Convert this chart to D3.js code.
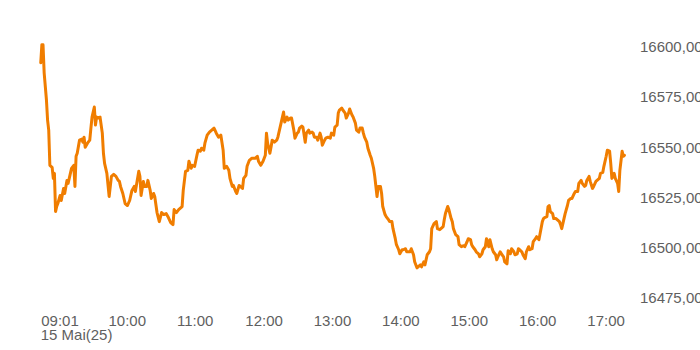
<!DOCTYPE html>
<html>
<head>
<meta charset="utf-8">
<script src="https://cdn.jsdelivr.net/npm/d3@7"></script>
<style>
  body { margin: 0; background: #fff; }
  svg { display: block; }
</style>
</head>
<body>
<div id="chart"></div>
<script>
// intraday quotes, 15 Mai 2025
const times = [
  "09:01","09:02","09:03","09:04","09:06","09:07","09:08","09:09","09:11","09:12","09:13","09:14","09:15","09:16","09:18","09:19",
  "09:21","09:22","09:24","09:25","09:27","09:28","09:30","09:31","09:32","09:33","09:35","09:37","09:38","09:39","09:40","09:42",
  "09:44","09:45","09:46","09:48","09:49","09:50","09:52","09:53","09:55","09:56","09:57","09:59","10:01","10:03","10:05","10:07",
  "10:09","10:10","10:11","10:13","10:15","10:17","10:19","10:21","10:23","10:24","10:27","10:28","10:29","10:31","10:32","10:34",
  "10:35","10:37","10:38","10:40","10:41","10:43","10:45","10:47","10:49","10:51","10:53","10:55","10:57","10:58","11:00","11:02",
  "11:05","11:06","11:08","11:10","11:11","11:13","11:14","11:16","11:18","11:19","11:21","11:22","11:24","11:25","11:27","11:29",
  "11:31","11:33","11:35","11:37","11:39","11:41","11:42","11:44","11:46","11:47","11:49","11:50","11:52","11:53","11:55","11:56",
  "11:58","11:59","12:01","12:02","12:04","12:06","12:09","12:11","12:12","12:14","12:16","12:18","12:19","12:20","12:22","12:23",
  "12:24","12:26","12:28","12:29","12:31","12:32","12:34","12:35","12:37","12:38","12:40","12:41","12:43","12:44","12:46","12:47",
  "12:48","12:50","12:51","12:53","12:54","12:56","12:57","12:59","13:00","13:01","13:03","13:04","13:06","13:07","13:08","13:10",
  "13:11","13:13","13:15","13:16","13:18","13:19","13:21","13:22","13:23","13:25","13:26","13:28","13:29","13:31","13:32","13:34",
  "13:35","13:37","13:38","13:40","13:41","13:43","13:44","13:45","13:47","13:48","13:50","13:51","13:53","13:54","13:56","13:57",
  "13:59","14:00","14:01","14:03","14:04","14:06","14:07","14:09","14:10","14:12","14:13","14:15","14:16","14:18","14:19","14:21",
  "14:22","14:23","14:25","14:26","14:28","14:29","14:31","14:32","14:34","14:35","14:37","14:38","14:39","14:40","14:42","14:43",
  "14:44","14:46","14:48","14:49","14:51","14:52","14:54","14:55","14:56","14:58","14:59","15:01","15:02","15:03","15:05","15:07",
  "15:08","15:10","15:12","15:13","15:15","15:16","15:18","15:19","15:20","15:22","15:23","15:25","15:26","15:28","15:29","15:31",
  "15:32","15:34","15:35","15:37","15:38","15:40","15:41","15:42","15:44","15:45","15:47","15:48","15:50","15:51","15:53","15:54",
  "15:56","15:57","15:59","16:00","16:01","16:03","16:04","16:06","16:07","16:09","16:10","16:12","16:13","16:15","16:16","16:18",
  "16:19","16:21","16:22","16:23","16:25","16:26","16:27","16:28","16:30","16:31","16:33","16:34","16:36","16:37","16:38","16:40",
  "16:41","16:43","16:44","16:46","16:47","16:49","16:50","16:52","16:53","16:55","16:56","16:58","16:59","17:00","17:02","17:03",
  "17:05","17:06","17:08","17:09","17:11","17:12","17:14","17:15","17:17","17:18","17:20","17:21","17:22","17:24","17:25","17:27",
  "17:28","17:29","17:31","17:32","17:33"
];
const prices = [
  16592,16601,16601,16587,16573.5,16563.5,16558.5,16541,16540,16534.5,16537,16518,16520.5,16522,16526,16523.5,
  16529.5,16527,16533.5,16532,16537,16539.5,16541,16530.5,16545.5,16547,16553.5,16554,16552.5,16555,16550,16552,
  16553.5,16559.5,16565,16570,16561,16565,16564.5,16565,16557,16547,16542,16537,16525.5,16535.5,16536.5,16535.5,
  16533.5,16533,16530.5,16527,16522,16521,16523.5,16528.5,16530.5,16528,16538,16535.5,16526,16533,16530.5,16530.5,
  16533.5,16528.5,16524.5,16527,16525.5,16517.5,16513,16517.5,16516.5,16517,16515,16512.5,16511.5,16519,16517.5,16519,
  16520.5,16528.5,16538,16538.5,16543,16539.5,16541,16540.5,16546,16548.5,16548,16549.5,16548.5,16552,16556,16557.5,
  16558.5,16559.5,16557,16555,16556,16548.5,16539.5,16540.5,16538.5,16534.5,16530.5,16531,16528,16527,16531,16530.5,
  16529.5,16534.5,16536,16540.5,16543.5,16544.5,16544.5,16545.5,16543,16541,16543,16546,16557,16552,16547,16550,
  16553.5,16552.5,16553.5,16555,16560,16562.5,16567.5,16562.5,16565,16563.5,16564.5,16564.5,16558.5,16554.5,16557,16557.5,
  16559.5,16560.5,16560,16552.5,16557,16558.5,16557,16557.5,16557,16555,16555,16553.5,16557,16555,16551,16553.5,
  16554.5,16555,16554.5,16557,16556,16560,16561,16567,16568.5,16569.5,16568.5,16567,16564.5,16567,16569,16566,
  16565,16562,16558.5,16557.5,16559.5,16559.5,16557,16555,16552.5,16549.5,16546,16544.5,16539.5,16535.5,16525.5,16530.5,
  16530.5,16527,16520.5,16516.5,16515.5,16514,16513,16513,16509.5,16504.5,16501.5,16499,16497,16499,16499,16499.5,
  16498,16498,16498,16499.5,16496.5,16493,16490,16490.5,16491.5,16490.5,16493,16491.5,16494,16496.5,16498,16499.5,
  16509.5,16512,16513,16509.5,16509,16509.5,16510.5,16514,16517,16520.5,16519,16514.5,16513,16509.5,16506.5,16505.5,
  16501.5,16500.5,16501,16500.5,16503,16504.5,16504,16501.5,16500.5,16499,16498,16497,16495.5,16497,16499,16500.5,
  16504.5,16500.5,16504,16499.5,16498,16496.5,16494,16495.5,16498,16497,16495.5,16493,16492,16498.5,16497,16499.5,
  16498,16496.5,16497,16499.5,16499,16498,16496.5,16494.5,16498,16500.5,16499,16499.5,16503,16504.5,16505.5,16504,
  16507,16513,16514.5,16515,16515.5,16520.5,16521,16518,16517,16514.5,16514.5,16514,16513,16511.5,16509.5,16514.5,
  16517,16521,16523.5,16524.5,16524.5,16527,16528,16528,16532,16533.5,16532,16530.5,16531,16533.5,16535.5,16533,
  16529.5,16530.5,16533,16533.5,16534.5,16537,16537.5,16540.5,16545.5,16548.5,16548,16542,16534.5,16537,16534.5,16532,
  16528,16538.5,16548,16545.5,16546
];
const xTickTimes = ["09:01","10:00","11:00","12:00","13:00","14:00","15:00","16:00","17:00"];
const yTicks = [16475, 16500, 16525, 16550, 16575, 16600];
const dateLabel = "15 Mai(25)";

const width = 700, height = 350;
const parseTime = d3.timeParse("%H:%M");
const data = times.map((t, i) => ({ t: parseTime(t), v: prices[i] }));

const de = d3.formatLocale({ decimal: ",", thousands: ".", grouping: [3], currency: ["", " €"] });
const fmt = de.format(".2f");

const x = d3.scaleTime()
  .domain([parseTime("09:00"), parseTime("17:00")])
  .range([39.6, 586.8]);

const y = d3.scaleLinear()
  .domain([16475, 16600])
  .range([298, 46.7]);

const svg = d3.select("#chart")
  .append("svg")
  .attr("width", width)
  .attr("height", height)
  .style("font-family", "'Liberation Sans', Arial, sans-serif");

// price line
const line = d3.line()
  .x(d => x(d.t))
  .y(d => y(d.v));

svg.append("path")
  .datum(data)
  .attr("d", line)
  .attr("fill", "none")
  .attr("stroke", "#f07d00")
  .attr("stroke-width", 3)
  .attr("stroke-linejoin", "round")
  .attr("stroke-linecap", "round");

// y axis on the right, labels only
const yAxis = svg.append("g")
  .attr("transform", "translate(640,0)")
  .call(d3.axisRight(y).tickValues(yTicks).tickFormat(fmt).tickSize(0).tickPadding(0));
yAxis.select(".domain").remove();
yAxis.selectAll("text")
  .attr("fill", "#5f5f5f")
  .attr("font-size", "15px")
  .attr("font-family", "'Liberation Sans', Arial, sans-serif");

// x axis at the bottom, labels start at the tick
const xAxis = svg.append("g")
  .attr("transform", "translate(0,315)")
  .call(d3.axisBottom(x)
    .tickValues(xTickTimes.map(parseTime))
    .tickFormat(d3.timeFormat("%H:%M"))
    .tickSize(0).tickPadding(0));
xAxis.select(".domain").remove();
xAxis.selectAll("text")
  .attr("text-anchor", "start")
  .attr("fill", "#5f5f5f")
  .attr("font-size", "15px")
  .attr("font-family", "'Liberation Sans', Arial, sans-serif");

svg.append("text")
  .attr("x", x(parseTime(xTickTimes[0])))
  .attr("y", 340)
  .attr("fill", "#5f5f5f")
  .attr("font-size", "15px")
  .text(dateLabel);
</script>
</body>
</html>
